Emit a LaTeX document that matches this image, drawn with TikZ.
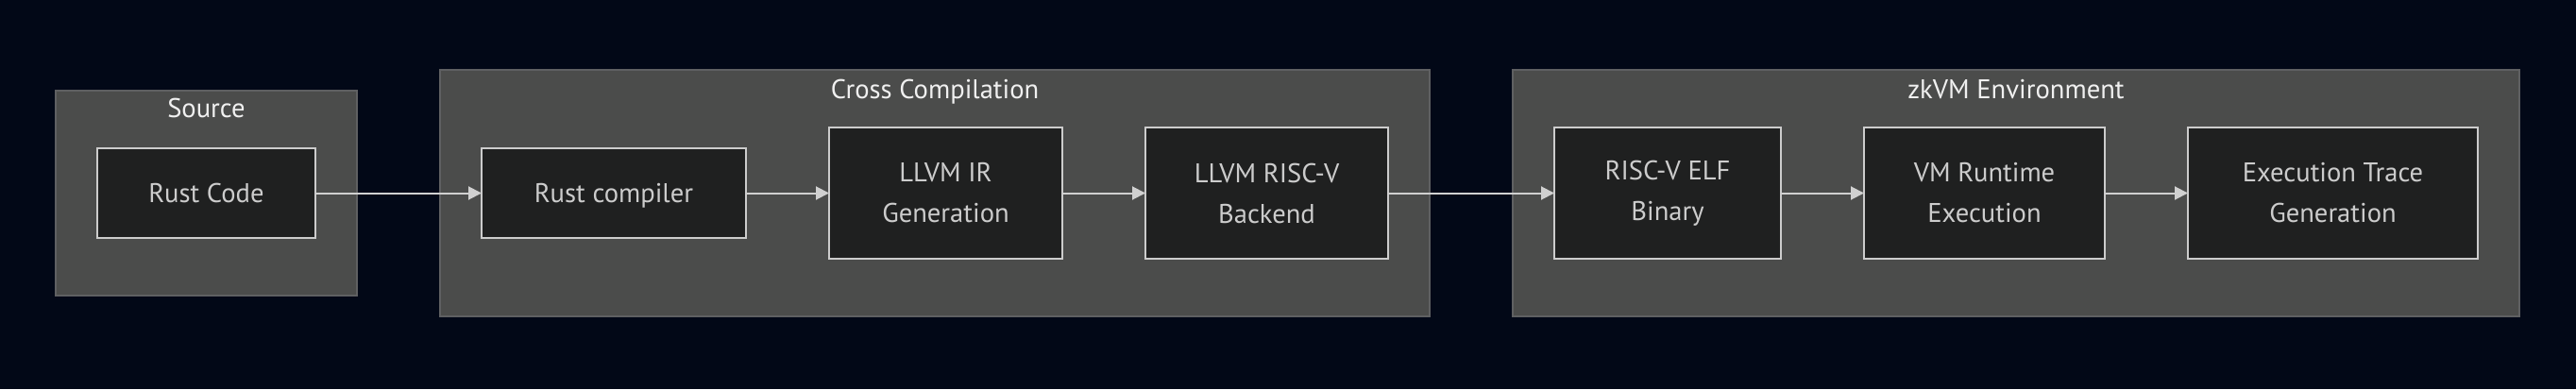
\documentclass[tikz,border=0pt]{standalone}
\usepackage{fontspec}
\setmainfont{PT Sans}
\usetikzlibrary{positioning,fit,backgrounds,arrows.meta}

\definecolor{pagebg}{RGB}{2,8,23}
\definecolor{groupfill}{RGB}{75,76,75}
\definecolor{groupline}{RGB}{95,96,98}
\definecolor{stagefill}{RGB}{31,32,32}
\definecolor{stageline}{RGB}{204,204,204}
\definecolor{titletext}{RGB}{240,240,240}
\definecolor{flowline}{RGB}{208,208,208}

\begin{document}
\begin{tikzpicture}[
    node distance=44pt,
    stage/.style={rectangle, draw=stageline, fill=stagefill, line width=1pt,
                minimum height=47.5pt, inner sep=4pt, outer sep=0pt, align=center,
                text=stageline, font=\fontsize{14.3pt}{21.5pt}\selectfont},
    oneline/.style={stage, text height=10pt, text depth=0pt},
    tall/.style={stage, minimum height=69.5pt},
    group/.style={rectangle, draw=groupline, fill=groupfill, line width=1pt,
                inner xsep=22pt, inner ysep=30.5pt, outer sep=0pt},
    grouptitle/.style={anchor=base, text=titletext, font=\fontsize{14.3pt}{21.5pt}\selectfont},
    arrow/.style={-{Triangle[length=7pt,width=7pt]}, flowline, line width=1pt}
]
    \useasboundingbox (0,0) rectangle (1364pt,-206pt);

    \node[oneline, minimum width=115.5pt] (rust) at (109.25pt,-102.25pt) {Rust Code};
    \node[oneline, minimum width=140pt, right=88pt of rust] (rustc) {Rust compiler};
    \node[tall, minimum width=123.5pt, right=of rustc] (llvmir) {LLVM IR\\Generation};
    \node[tall, minimum width=128.5pt, right=of llvmir] (backend) {LLVM RISC-V\\Backend};
    \node[tall, minimum width=120pt, right=88pt of backend] (elf) {RISC-V ELF\\Binary};
    \node[tall, minimum width=127.5pt, right=of elf] (vmrun) {VM Runtime\\Execution};
    \node[tall, minimum width=153.5pt, right=of vmrun] (trace) {Execution Trace\\Generation};

    \begin{scope}[on background layer]
        \fill[pagebg] (0,0) rectangle (1364pt,-206pt);
        \node[group, fit=(rust)] (srcbox) {};
        \node[group, fit=(rustc) (llvmir) (backend)] (crossbox) {};
        \node[group, fit=(elf) (vmrun) (trace)] (zkbox) {};
    \end{scope}

    \node[grouptitle] (srctitle) at ([yshift=-14.2pt]srcbox.north) {Source};
    \node[grouptitle] (crosstitle) at ([yshift=-15pt]crossbox.north) {Cross Compilation};
    \node[grouptitle] (zktitle) at ([yshift=-15pt]zkbox.north) {zkVM Environment};

    \draw[arrow] (rust) -- (rustc);
    \draw[arrow] (rustc) -- (llvmir);
    \draw[arrow] (llvmir) -- (backend);
    \draw[arrow] (backend) -- (elf);
    \draw[arrow] (elf) -- (vmrun);
    \draw[arrow] (vmrun) -- (trace);
\end{tikzpicture}
\end{document}
